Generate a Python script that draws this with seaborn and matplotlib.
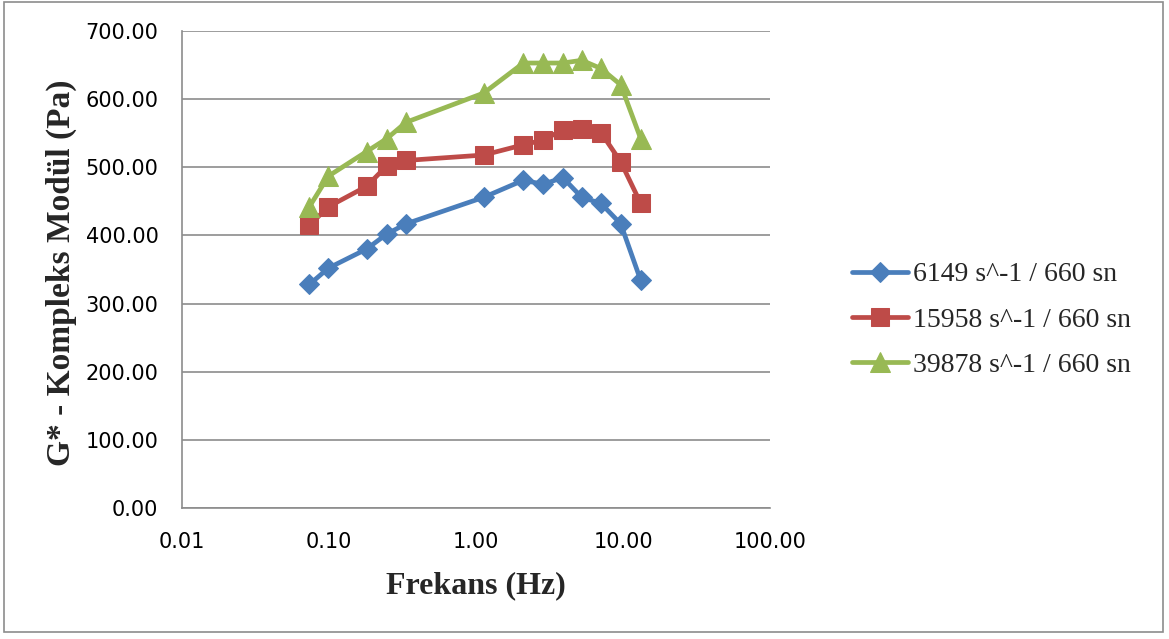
import matplotlib
matplotlib.use("Agg")
import matplotlib.pyplot as plt
import matplotlib.patches as mpatches
from matplotlib.ticker import FixedLocator, FixedFormatter, NullLocator
import numpy as np
import pandas as pd
import seaborn as sns

# Frequency sweep (Hz) shared by all three shear histories
frekans = [0.0735, 0.099, 0.180, 0.247, 0.334, 1.13, 2.10, 2.87, 3.89, 5.24, 7.08, 9.65, 13.2]

# Complex modulus G* (Pa)
g_6149 = [328, 352, 380, 402, 417, 456, 481, 475, 485, 456, 447, 417, 334]
g_15958 = [415, 442, 472, 502, 510, 518, 533, 540, 555, 556, 551, 508, 447]
g_39878 = [442, 487, 523, 542, 566, 609, 653, 653, 653, 657, 645, 621, 542]

series_names = ["6149 s^-1 / 660 sn", "15958 s^-1 / 660 sn", "39878 s^-1 / 660 sn"]
colors = ["#4A7EBB", "#BE4B48", "#98B954"]
markers = ["D", "s", "^"]
marker_sizes = [10, 13.5, 14.5]

x_ticks = [0.01, 0.1, 1, 10, 100]
x_tick_labels = ["0.01", "0.10", "1.00", "10.00", "100.00"]
y_ticks = [0, 100, 200, 300, 400, 500, 600, 700]
y_tick_labels = [f"{v:.2f}" for v in y_ticks]

df = pd.concat(
    [pd.DataFrame({"Frekans": frekans, "G": vals, "seri": name})
     for name, vals in zip(series_names, [g_6149, g_15958, g_39878])],
    ignore_index=True,
)

sns.set_style("white")
plt.rcParams["font.family"] = ["DejaVu Sans"]

W, H = 1169, 639
fig = plt.figure(figsize=(W / 100, H / 100), dpi=100)
ax = fig.add_axes([182 / W, 1 - 508 / H, (770 - 182) / W, (508 - 31) / H])

for name, col, mk, ms in zip(series_names, colors, markers, marker_sizes):
    sub = df[df["seri"] == name]
    sns.lineplot(data=sub, x="Frekans", y="G", ax=ax, color=col, marker=mk,
                 markersize=ms, markeredgecolor=col, linewidth=3.4,
                 label=name, sort=False, estimator=None)

ax.set_xscale("log")
ax.set_xlim(0.01, 100)
ax.set_ylim(0, 700)

ax.xaxis.set_major_locator(FixedLocator(x_ticks))
ax.xaxis.set_major_formatter(FixedFormatter(x_tick_labels))
ax.xaxis.set_minor_locator(NullLocator())
ax.yaxis.set_major_locator(FixedLocator(y_ticks))
ax.yaxis.set_major_formatter(FixedFormatter(y_tick_labels))

ax.grid(axis="y", color="#8C8C8C", linewidth=1.2)
ax.grid(axis="x", visible=False)
ax.set_axisbelow(True)

for side in ["top", "right"]:
    ax.spines[side].set_visible(False)
for side in ["left", "bottom"]:
    ax.spines[side].set_color("#8C8C8C")
    ax.spines[side].set_linewidth(1.2)

ax.tick_params(axis="both", which="major", direction="out", length=6, width=1.2,
               color="#8C8C8C", labelsize=15, labelcolor="black")
ax.tick_params(axis="y", pad=11)
ax.tick_params(axis="x", pad=11)

ax.set_xlabel("Frekans (Hz)", fontfamily="Liberation Serif", fontweight="bold",
              fontsize=23)
ax.set_ylabel("G* - Kompleks Modül (Pa)", fontfamily="Liberation Serif", fontweight="bold",
              fontsize=24)
ax.xaxis.set_label_coords(0.5, -(586 - 508) / 477)
ax.xaxis.label.set_va("center")
ax.yaxis.set_label_coords((61 - 182) / 588, (508 - 273) / 477)
ax.yaxis.label.set_va("center")

leg = ax.legend(loc="center left", bbox_to_anchor=(852 / W, 1 - 320 / H),
                bbox_transform=fig.transFigure, frameon=False,
                prop={"family": "Liberation Serif", "size": 20},
                borderpad=0, borderaxespad=0,
                handlelength=2.0, handletextpad=0.18, labelspacing=0.72)

# outer chart frame
fig.patches.append(mpatches.Rectangle((4 / W, 1 - 632 / H), 1159 / W, 630 / H,
                                      transform=fig.transFigure, fill=False,
                                      edgecolor="#8C8C8C", linewidth=1.2))

fig.savefig("out.png", dpi=100)
